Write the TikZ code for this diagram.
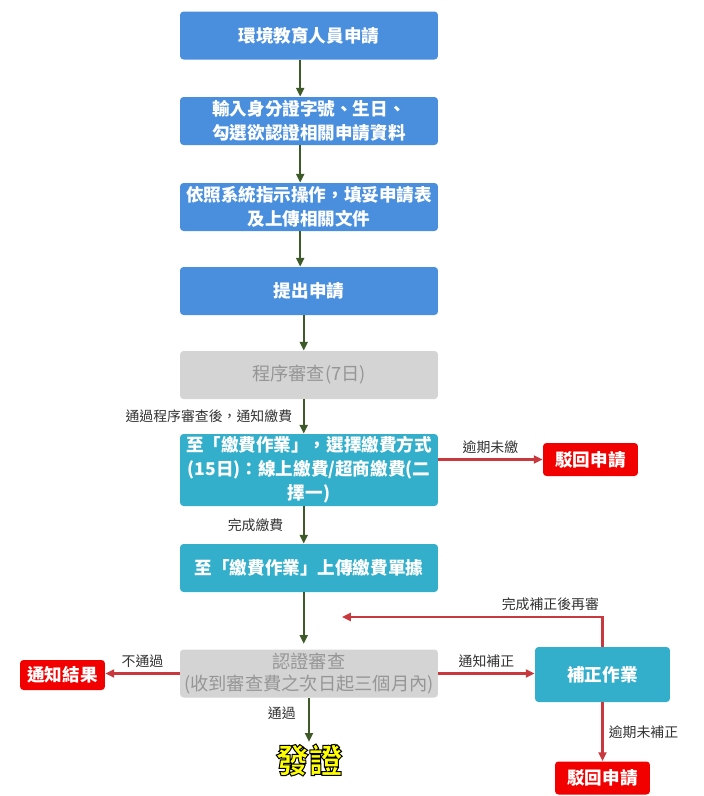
\documentclass[tikz,border=0pt]{standalone}
\usepackage{fontspec}
\setmainfont{Noto Sans CJK TC}
\newfontfamily\issuefont[UprightFont={* Black},BoldFont={* Black},FakeBold=3]{Noto Sans CJK TC}
\usetikzlibrary{arrows.meta}

\definecolor{stepblue}{HTML}{4A8FDE}
\definecolor{payteal}{HTML}{33AFCC}
\definecolor{checkgrey}{HTML}{D4D4D4}
\definecolor{checktext}{HTML}{969696}
\definecolor{rejectred}{HTML}{F20000}
\definecolor{flowgreen}{HTML}{3D5A28}
\definecolor{backred}{HTML}{C8383C}
\definecolor{notetext}{HTML}{333333}
\definecolor{glowyellow}{HTML}{FFFF00}

\newcommand\boxfont{\bfseries\fontsize{10}{13.6}\selectfont}
\newcommand\greyfont{\fontsize{10.4}{13}\selectfont}
\newcommand\notefont{\fontsize{7.9}{9}\selectfont}
% yellow text with a dark rim (stroke set to black)
\newcommand\glowtext[1]{{\color{glowyellow}\special{pdf:code 0 0 0 RG}\issuefont #1}}

\begin{document}
\begin{tikzpicture}[x=0.02cm,y=-0.02cm,
    box/.style={rounded corners=2pt,inner sep=0pt,minimum width=5.16cm,minimum height=0.96cm,align=center,font=\boxfont,text=white},
    bluebox/.style={box,fill=stepblue},
    greybox/.style={box,fill=checkgrey,text=checktext,font=\greyfont},
    tealbox/.style={box,fill=payteal},
    redbox/.style={rounded corners=2pt,inner sep=0pt,minimum width=1.9cm,minimum height=0.66cm,fill=rejectred,text=white,font=\boxfont},
    greenline/.style={draw=flowgreen,line width=1.2pt,-{Triangle[length=5pt,width=4.5pt]}},
    redline/.style={draw=backred,line width=1.2pt,-{Triangle[length=5pt,width=4.5pt]}},
    note/.style={font=\notefont,text=notetext,inner sep=3pt}]
    \useasboundingbox (0,0) rectangle (704,796);

    % boxes
    \node[bluebox] (apply) at (309,35.5) {環境教育人員申請};
    \node[bluebox] (input) at (309,121) {輸入身分證字號、生日、\\勾選欲認證相關申請資料};
    \node[bluebox] (form) at (309,207) {依照系統指示操作，填妥申請表\\及上傳相關文件};
    \node[bluebox] (submit) at (309,291) {提出申請};
    \node[greybox] (review) at (309,375) {程序審查(7日)};
    \node[tealbox,minimum height=1.44cm] (pay) at (309,470) {至「繳費作業」，選擇繳費方式\\(15日)：線上繳費/超商繳費(二\\擇一)};
    \node[tealbox] (upload) at (309,568) {至「繳費作業」上傳繳費單據};
    \node[greybox] (cert) at (309,673.5) {認證審查\\(收到審查費之次日起三個月內)};
    \node[tealbox,minimum width=2.7cm,minimum height=1.1cm] (fix) at (602.5,674.5) {補正作業};
    \node[redbox] (reject) at (590.5,459.5) {駁回申請};
    \node[redbox,minimum width=1.7cm,minimum height=0.6cm] (result) at (62.5,675) {通知結果};
    \node[redbox] (reject2) at (602.5,778) {駁回申請};
    \node[inner sep=1pt,font=\fontsize{19}{22}\selectfont] (issue) at (309,760) {\glowtext{發證}};
    \coordinate (recheck) at (342,617);

    % main flow
    \draw[greenline] ([xshift=-5pt]apply.south) -- ([xshift=-5pt]input.north);
    \draw[greenline] ([xshift=-5pt]input.south) -- ([xshift=-5pt]form.north);
    \draw[greenline] ([xshift=-5pt]form.south) -- ([xshift=-5pt]submit.north);
    \draw[greenline] ([xshift=-3pt]submit.south) -- ([xshift=-3pt]review.north);
    \draw[greenline] ([xshift=-3pt]review.south) -- node[note,left,xshift=-3pt] {通過程序審查後，通知繳費} ([xshift=-3pt]pay.north);
    \draw[greenline] ([xshift=-3pt]pay.south) -- node[note,left,xshift=-8pt] {完成繳費} ([xshift=-3pt]upload.north);
    \draw[greenline] ([xshift=-3pt]upload.south) -- ([xshift=-3pt,yshift=3pt]cert.north);
    \draw[greenline] (cert.south) -- node[note,left,pos=0.35,xshift=-4pt] {通過} (issue.north);

    % side branches
    \draw[redline] (pay.east |- reject.west) -- node[note,above] {逾期未繳} (reject.west);
    \draw[redline] (cert.west) -- node[note,above] {不通過} (cert.west -| result.east);
    \draw[redline] (cert.east) -- node[note,above] {通知補正} (cert.east -| fix.west);
    \draw[redline] (fix.south) -- node[note,right] {逾期未補正} (reject2.north);
    \draw[redline] (fix.north) |- node[note,pos=0.6,above] {完成補正後再審} (recheck);
\end{tikzpicture}
\end{document}
